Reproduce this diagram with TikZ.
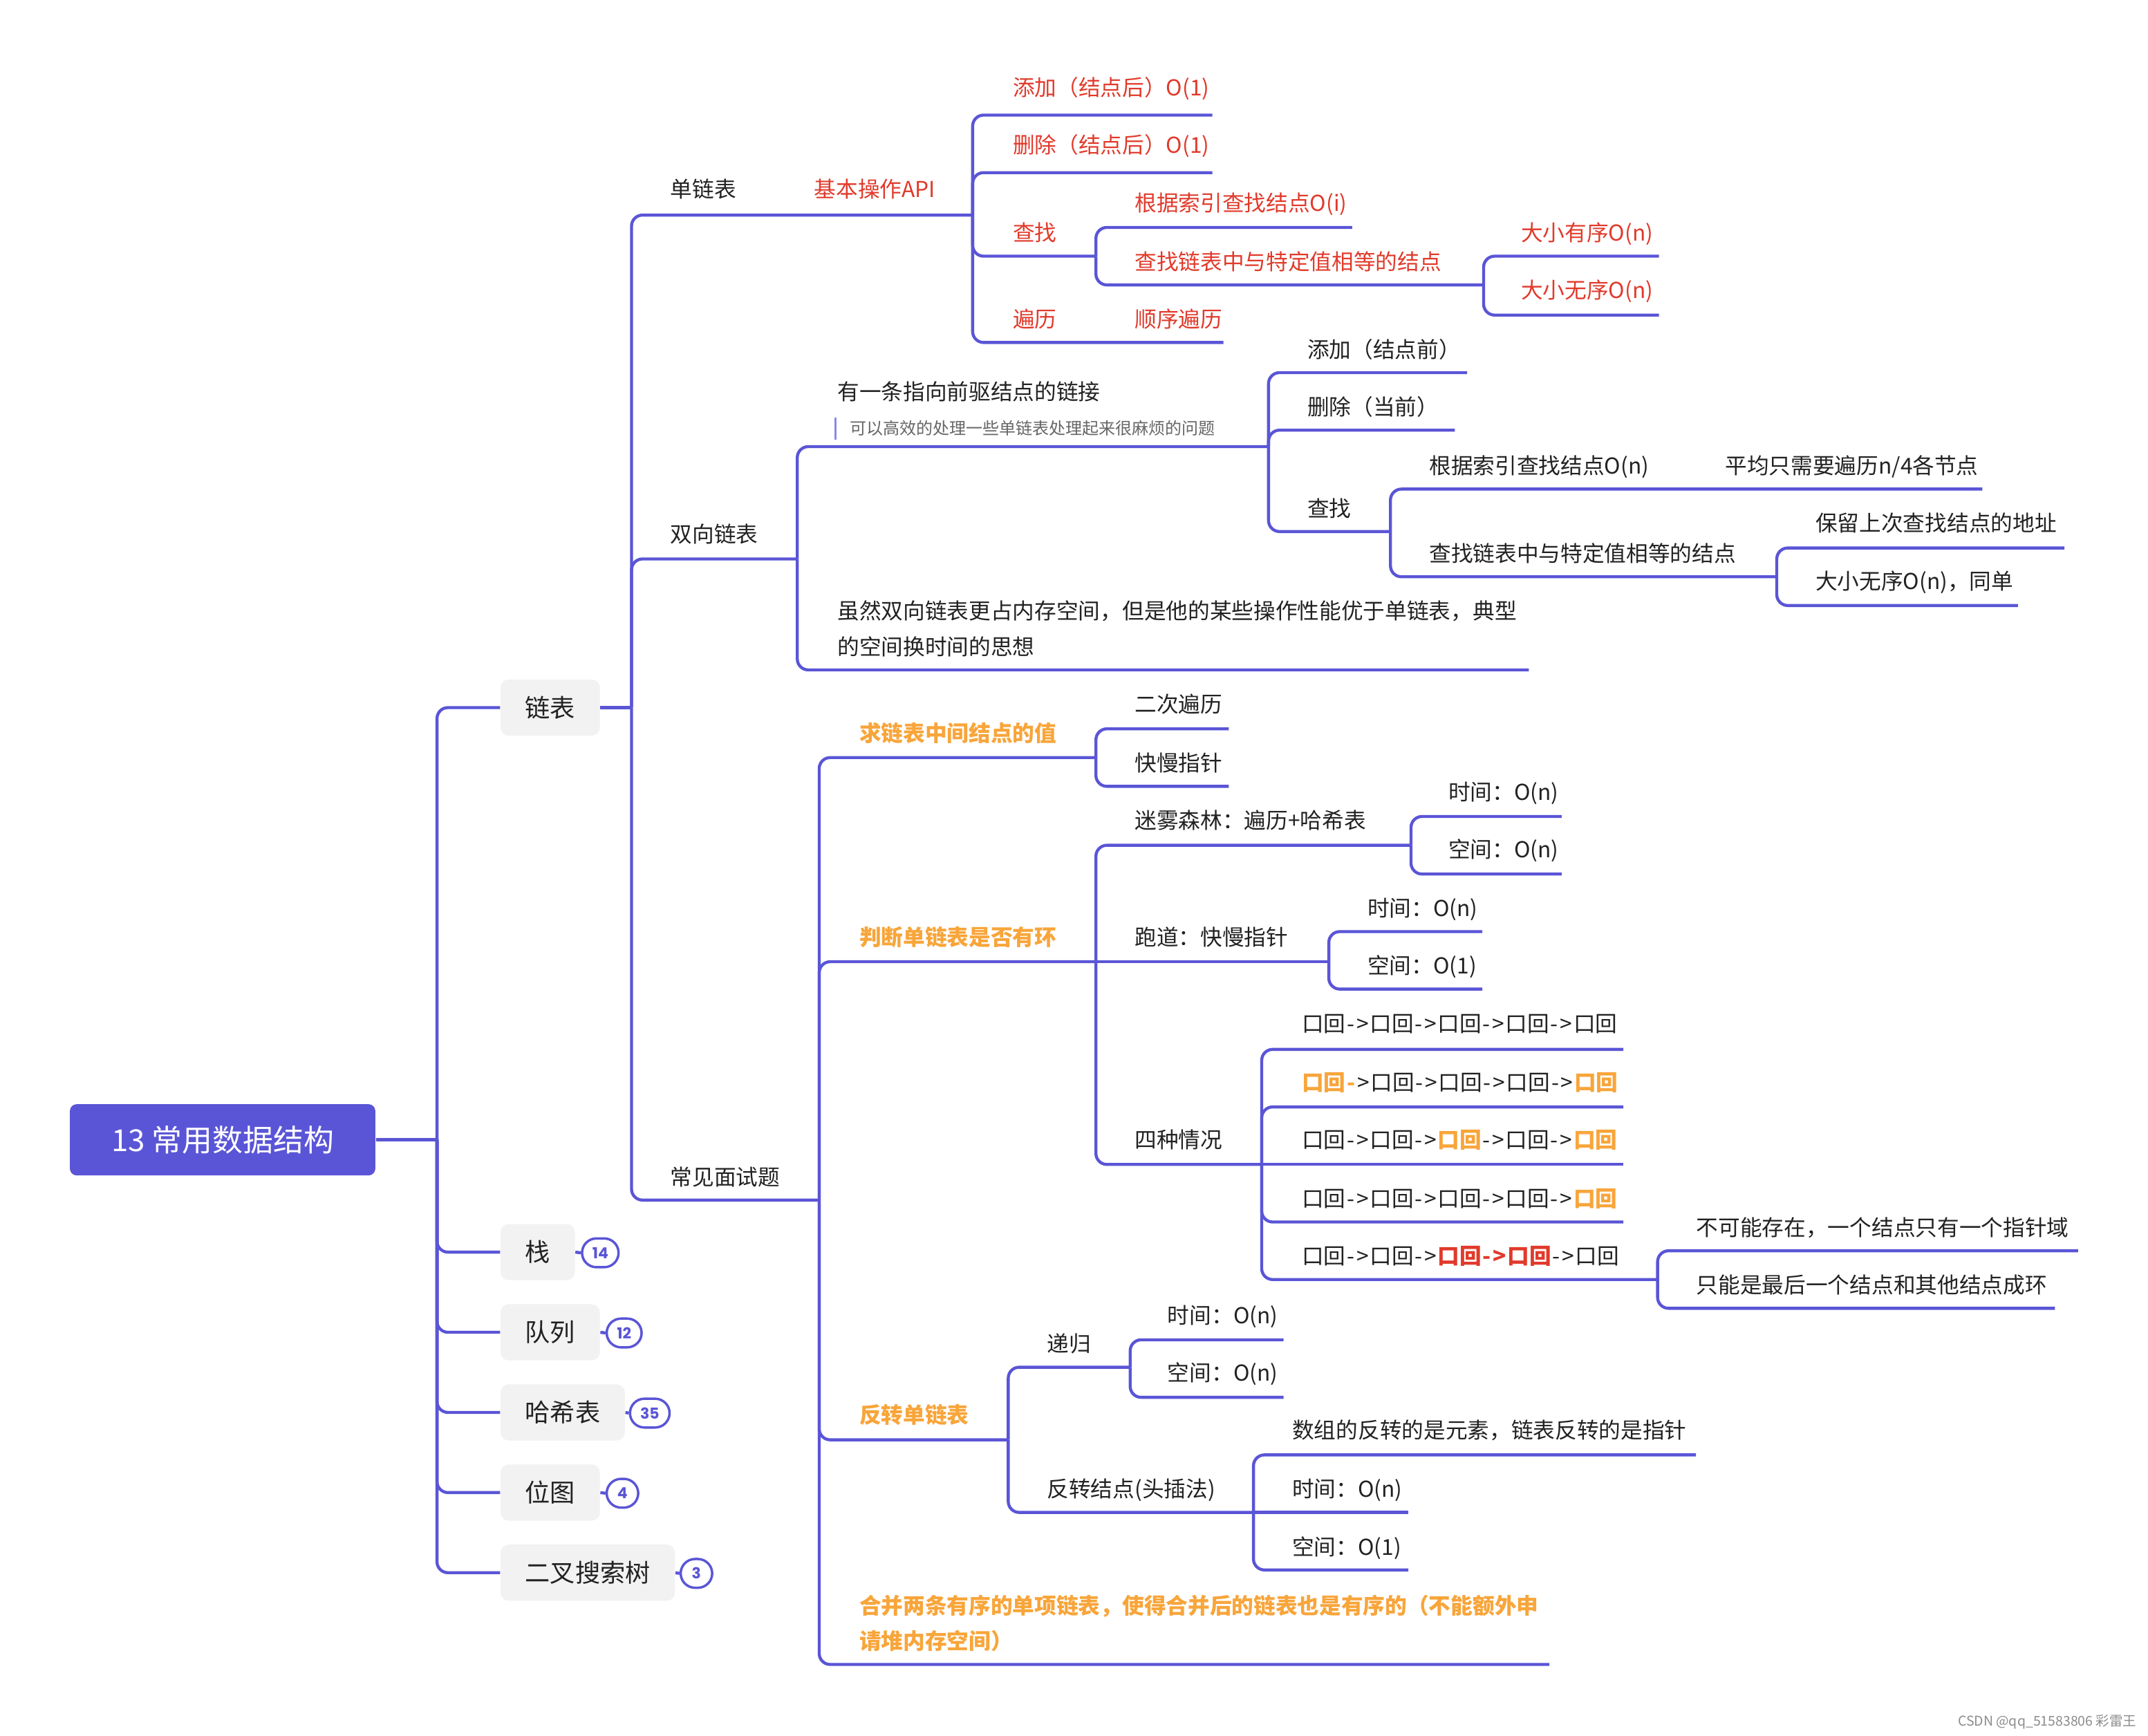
\documentclass[tikz,border=0pt]{standalone}
\usepackage{fontspec}
\setmainfont{Noto Sans CJK SC}
\newfontfamily\bdgfont{Poppins}
\definecolor{lc}{HTML}{5A55D6}
\definecolor{tc}{HTML}{222222}
\definecolor{rc}{HTML}{E13A2B}
\definecolor{oc}{HTML}{F8A53A}
\definecolor{bx}{HTML}{F2F2F2}
\definecolor{nb}{HTML}{8B88E6}
\newcommand\fsN{\fontsize{9.1pt}{11pt}\selectfont}
\newcommand\fsB{\fontsize{10.4pt}{12pt}\selectfont}
\newcommand\fsR{\fontsize{12.6pt}{15pt}\selectfont}
\newcommand\fsS{\fontsize{6.9pt}{8pt}\selectfont}
\newcommand\og[1]{{\color{oc}\bfseries #1}}
\newcommand\rd[1]{{\color{rc}\bfseries #1}}
\newcommand\dsh{\kern0.5pt-\kern0.4pt}
\newcommand\gt{\kern0.4pt>\kern0.5pt}
\newcommand\ar{\dsh\gt}
\tikzset{
  conn/.style={draw=lc, line width=1.25pt, rounded corners=1.6mm},
  txt/.style={anchor=base west, inner sep=0pt, font=\fsN, text=tc},
  redtxt/.style={txt, text=rc},
  orgtxt/.style={txt, text=oc, font=\fsN\bfseries},
  lvlbox/.style={anchor=west, fill=bx, rounded corners=1.2mm, inner xsep=3.6mm, inner ysep=0pt, minimum height=8.2mm, font=\fsB, text=tc},
  badge/.style={anchor=west, draw=lc, line width=1pt, fill=white, rounded corners=2.1mm, minimum height=4.2mm, minimum width=4.6mm, inner xsep=1.5mm, inner ysep=0pt, font=\bdgfont\fontsize{6.3pt}{7pt}\selectfont\bfseries, text=lc},
  rootbox/.style={fill=lc, rounded corners=1mm, minimum width=44.6mm, minimum height=10.4mm, inner sep=0pt, text=white, font=\fsR},
}
\begin{document}
\begin{tikzpicture}[x=0.2mm,y=-0.2mm]
\useasboundingbox (0,0) rectangle (1568,1267);
\fill[white] (0,0) rectangle (1568,1267);

% ---------- root and level 1 ----------
\node[rootbox] (root) at (162.5,832) {13 常用数据结构};
\node[lvlbox] (lb) at (365,516.5) {链表};
\node[lvlbox] (zhan) at (365,914) {栈};
\node[lvlbox] (dl) at (365,972.5) {队列};
\node[lvlbox] (hx) at (365,1031) {哈希表};
\node[lvlbox] (wt) at (365,1089.5) {位图};
\node[lvlbox] (ec) at (365,1148) {二叉搜索树};
\node[badge] (b14) at (424,914.5) {14};
\node[badge] (b12) at (442,973) {12};
\node[badge] (b35) at (459,1031.5) {35};
\node[badge] (b4) at (442,1090) {4};
\node[badge] (b3) at (496,1148.5) {3};

\coordinate (rs) at (319,832);
\draw[conn] (root.east) -- (rs);
\foreach \n in {lb,zhan,dl,hx,wt,ec} {\draw[conn] (rs) |- (\n.west);}
\draw[conn] (zhan.east) -- (b14.west);
\draw[conn] (dl.east) -- (b12.west);
\draw[conn] (hx.east) -- (b35.west);
\draw[conn] (wt.east) -- (b4.west);
\draw[conn] (ec.east) -- (b3.west);

% ---------- 链表 ----------
\coordinate (ls) at (461,516.5);
\draw[conn] (lb.east) -- (ls);
\draw[conn] (ls) -- (461,157) -- (710,157);
\draw[conn] (ls) -- (461,408) -- (582,408);
\draw[conn] (ls) -- (461,876) -- (598,876);

% 单链表
\node[txt] (dan) at (489,144) {单链表};
\node[redtxt] (api) at (594,144) {基本操作API};
\draw[conn] (710,157) -- (710,84) -- (885,84);
\draw[conn] (710,157) -- (710,126) -- (885,126);
\draw[conn] (710,157) -- (710,187) -- (800,187);
\draw[conn] (710,157) -- (710,250) -- (893,250);
\node[redtxt] (add1) at (739,70) {添加（结点后）O(1)};
\node[redtxt] (del1) at (739,112) {删除（结点后）O(1)};
\node[redtxt] (find1) at (739,176) {查找};
\node[redtxt] (trav1) at (739,239) {遍历};
\node[redtxt] (seq1) at (828,239) {顺序遍历};
\draw[conn] (800,187) -- (800,166) -- (987,166);
\draw[conn] (800,187) -- (800,208) -- (1083,208);
\node[redtxt] (idx1) at (828,154) {根据索引查找结点O(i)};
\node[redtxt] (eq1) at (828,197) {查找链表中与特定值相等的结点};
\draw[conn] (1083,208) -- (1083,187) -- (1211,187);
\draw[conn] (1083,208) -- (1083,230) -- (1211,230);
\node[redtxt] (ord1) at (1110,176) {大小有序O(n)};
\node[redtxt] (uno1) at (1110,218) {大小无序O(n)};

% 双向链表
\node[txt] (dbl) at (489,396) {双向链表};
\draw[conn] (582,408) -- (582,326) -- (926,326);
\draw[conn] (582,408) -- (582,489) -- (1116,489);
\node[txt] (prev) at (611,292) {有一条指向前驱结点的链接};
\draw[draw=nb, line width=1pt] (610,305) -- (610,321);
\node[txt, font=\fsS, text=black!60] (note) at (620,317) {可以高效的处理一些单链表处理起来很麻烦的问题};
\node[txt] (big1) at (611,452) {虽然双向链表更占内存空间，但是他的某些操作性能优于单链表，典型};
\node[txt] (big2) at (611,478) {的空间换时间的思想};
\draw[conn] (926,326) -- (926,272) -- (1071,272);
\draw[conn] (926,326) -- (926,314) -- (1062,314);
\draw[conn] (926,326) -- (926,388) -- (1015,388);
\node[txt] (addp) at (954,261) {添加（结点前）};
\node[txt] (delc) at (954,303) {删除（当前）};
\node[txt] (find2) at (954,377) {查找};
\draw[conn] (1015,388) -- (1015,357) -- (1447,357);
\draw[conn] (1015,388) -- (1015,421) -- (1297,421);
\node[txt] (idx2) at (1043,346) {根据索引查找结点O(n)};
\node[txt] (avg) at (1259,346) {平均只需要遍历n/4各节点};
\node[txt] (eq2) at (1043,410) {查找链表中与特定值相等的结点};
\draw[conn] (1297,421) -- (1297,400) -- (1507,400);
\draw[conn] (1297,421) -- (1297,442) -- (1473,442);
\node[txt] (keep) at (1325,388) {保留上次查找结点的地址};
\node[txt] (uno2) at (1325,430) {大小无序O(n)，同单};

% 常见面试题
\node[txt] (iv) at (489,865) {常见面试题};
\draw[conn] (598,876) -- (598,553) -- (800,553);
\draw[conn] (598,876) -- (598,702) -- (800,702);
\draw[conn] (598,876) -- (598,1051) -- (736,1051);
\draw[conn] (598,876) -- (598,1215) -- (1131,1215);

\node[orgtxt] (mid) at (627,541) {求链表中间结点的值};
\draw[conn] (800,553) -- (800,532) -- (897,532);
\draw[conn] (800,553) -- (800,574) -- (897,574);
\node[txt] (two) at (828,520) {二次遍历};
\node[txt] (fs) at (828,563) {快慢指针};

\node[orgtxt] (cyc) at (627,690) {判断单链表是否有环};
\draw[conn] (800,702) -- (800,617) -- (1030,617);
\draw[conn] (800,702) -- (970,702);
\draw[conn] (800,702) -- (800,850) -- (921,850);
\node[txt] (fog) at (828,605) {迷雾森林：遍历+哈希表};
\draw[conn] (1030,617) -- (1030,596) -- (1140,596);
\draw[conn] (1030,617) -- (1030,638) -- (1140,638);
\node[txt] (t1) at (1057,584) {时间：O(n)};
\node[txt] (s1) at (1057,626) {空间：O(n)};
\node[txt] (run) at (828,690) {跑道：快慢指针};
\draw[conn] (970,702) -- (970,680) -- (1082,680);
\draw[conn] (970,702) -- (970,722) -- (1082,722);
\node[txt] (t2) at (998,669) {时间：O(n)};
\node[txt] (s2) at (998,711) {空间：O(1)};
\node[txt] (four) at (828,838) {四种情况};
\draw[conn] (921,850) -- (921,766) -- (1185,766);
\draw[conn] (921,850) -- (921,808) -- (1185,808);
\draw[conn] (921,850) -- (1185,850);
\draw[conn] (921,850) -- (921,892) -- (1185,892);
\draw[conn] (921,850) -- (921,934) -- (1210,934);
\node[txt] (r1) at (950,753) {口回\ar 口回\ar 口回\ar 口回\ar 口回};
\node[txt] (r2) at (950,796) {\og{口回\dsh}\gt 口回\ar 口回\ar 口回\ar \og{口回}};
\node[txt] (r3) at (950,838) {口回\ar 口回\ar \og{口回}\ar 口回\ar \og{口回}};
\node[txt] (r4) at (950,881) {口回\ar 口回\ar 口回\ar 口回\ar \og{口回}};
\node[txt] (r5) at (950,923) {口回\ar 口回\ar \rd{口回\ar 口回}\ar 口回};
\draw[conn] (1210,934) -- (1210,913) -- (1517,913);
\draw[conn] (1210,934) -- (1210,955) -- (1500,955);
\node[txt] (no) at (1238,902) {不可能存在，一个结点只有一个指针域};
\node[txt] (only) at (1238,944) {只能是最后一个结点和其他结点成环};

\node[orgtxt] (rev) at (627,1039) {反转单链表};
\draw[conn] (736,1051) -- (736,998) -- (825,998);
\draw[conn] (736,1051) -- (736,1104) -- (915,1104);
\node[txt] (rec) at (764,987) {递归};
\draw[conn] (825,998) -- (825,978) -- (937,978);
\draw[conn] (825,998) -- (825,1020) -- (937,1020);
\node[txt] (t3) at (852,966) {时间：O(n)};
\node[txt] (s3) at (852,1008) {空间：O(n)};
\node[txt] (head) at (764,1093) {反转结点(头插法)};
\draw[conn] (915,1104) -- (915,1062) -- (1238,1062);
\draw[conn] (915,1104) -- (1028,1104);
\draw[conn] (915,1104) -- (915,1146) -- (1028,1146);
\node[txt] (arr) at (943,1050) {数组的反转的是元素，链表反转的是指针};
\node[txt] (t4) at (943,1093) {时间：O(n)};
\node[txt] (s4) at (943,1135) {空间：O(1)};

\node[orgtxt] (mg1) at (627,1178) {合并两条有序的单项链表，使得合并后的链表也是有序的（不能额外申};
\node[orgtxt] (mg2) at (627,1204) {请堆内存空间）};

% watermark
\node[anchor=base east, inner sep=0pt, font=\fontsize{5.6pt}{6.5pt}\selectfont, text=black!45] (wm) at (1560,1260) {CSDN @qq\_51583806 彩雷王};
\end{tikzpicture}
\end{document}
